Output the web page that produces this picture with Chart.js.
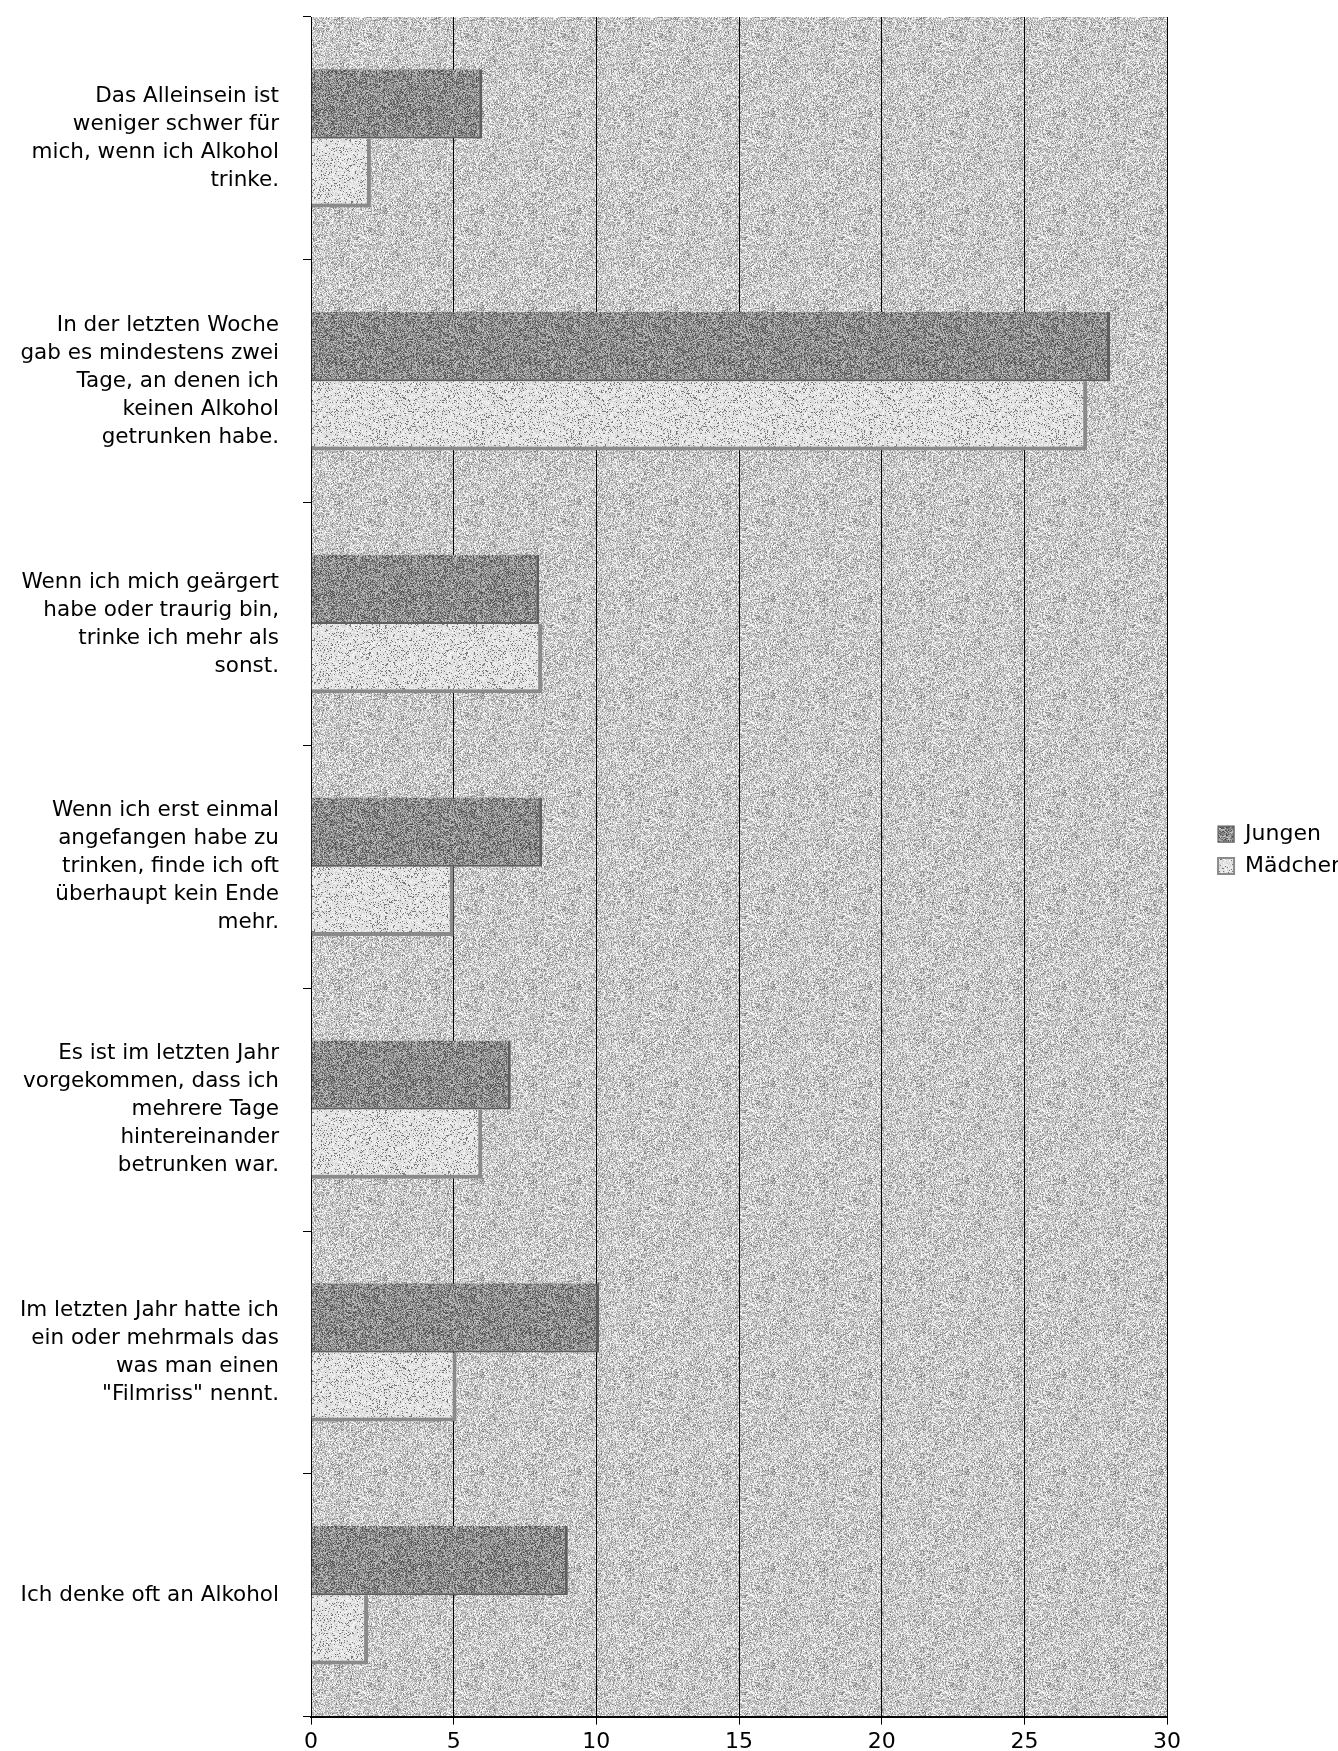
<!DOCTYPE html>
<html>
<head>
<meta charset="utf-8">
<script src="https://cdn.jsdelivr.net/npm/chart.js@4"></script>
<style>
  html, body { margin: 0; padding: 0; background: #ffffff; overflow: hidden; }
  #frame { width: 1338px; height: 1751px; overflow: hidden; position: relative; }
  #wrap { width: 1355px; height: 1759px; position: absolute; left: 0; top: 0; }
</style>
</head>
<body>
<div id="frame"><div id="wrap"><canvas id="c"></canvas></div></div>
<script>
const categories = [
  ["Das Alleinsein ist", "weniger schwer für", "mich, wenn ich Alkohol", "trinke."],
  ["In der letzten Woche", "gab es mindestens zwei", "Tage, an denen ich", "keinen Alkohol", "getrunken habe."],
  ["Wenn ich mich geärgert", "habe oder traurig bin,", "trinke ich mehr als", "sonst."],
  ["Wenn ich erst einmal", "angefangen habe zu", "trinken, finde ich oft", "überhaupt kein Ende", "mehr."],
  ["Es ist im letzten Jahr", "vorgekommen, dass ich", "mehrere Tage", "hintereinander", "betrunken war."],
  ["Im letzten Jahr hatte ich", "ein oder mehrmals das", "was man einen", "\"Filmriss\" nennt."],
  "Ich denke oft an Alkohol"
];
const seriesNames = ["Jungen", "Mädchen"];
const jungen = [6.0, 28.0, 8.0, 8.1, 7.0, 10.1, 9.0];
const maedchen = [2.1, 27.2, 8.1, 5.0, 6.0, 5.1, 2.0];
const xMin = 0, xMax = 30, xStep = 5;

// deterministic speckle texture (styling only, not data)
function hash(i) {
  i = Math.imul(i ^ 0x9e3779b9, 0x85ebca6b);
  i ^= i >>> 13; i = Math.imul(i, 0xc2b2ae35); i ^= i >>> 16;
  return (i >>> 0) / 4294967295;
}
function makePattern(base, spread, dotProb, dotVal, seed) {
  const s = 97, cv = document.createElement('canvas');
  cv.width = s; cv.height = s;
  const cx = cv.getContext('2d');
  const img = cx.createImageData(s, s);
  for (let p = 0; p < s * s; p++) {
    const h1 = hash(p * 3 + seed), h2 = hash(p * 7 + seed * 13 + 1);
    let v = base + (h1 - 0.5) * spread;
    if (h2 < dotProb) v = dotVal;
    v = Math.max(0, Math.min(255, v));
    img.data[p * 4] = v; img.data[p * 4 + 1] = v; img.data[p * 4 + 2] = v; img.data[p * 4 + 3] = 255;
  }
  cx.putImageData(img, 0, 0);
  return cx.createPattern(cv, 'repeat');
}
const bgPattern = makePattern(204, 105, 0.05, 125, 11);
const jungenPattern = makePattern(144, 115, 0.07, 75, 29);
const maedchenPattern = makePattern(228, 40, 0.12, 120, 47);

const plotBg = {
  id: 'plotBg',
  beforeDraw(chart) {
    const a = chart.chartArea, ctx = chart.ctx;
    ctx.save();
    ctx.fillStyle = bgPattern;
    ctx.fillRect(a.left, a.top, a.right - a.left, a.bottom - a.top);
    ctx.restore();
  }
};

new Chart(document.getElementById('c'), {
  type: 'bar',
  data: {
    labels: categories,
    datasets: [
      { label: seriesNames[0], data: jungen, backgroundColor: jungenPattern,
        borderColor: '#5e5e5e', borderWidth: {top: 0, left: 0, right: 3, bottom: 2}, borderSkipped: false },
      { label: seriesNames[1], data: maedchen, backgroundColor: maedchenPattern,
        borderColor: '#8a8a8a', borderWidth: {top: 0, left: 0, right: 4, bottom: 4}, borderSkipped: false }
    ]
  },
  options: {
    indexAxis: 'y',
    responsive: true,
    maintainAspectRatio: false,
    animation: false,
    devicePixelRatio: 1,
    datasets: { bar: { categoryPercentage: 0.57, barPercentage: 1.0 } },
    layout: { padding: { left: 20, right: 0, top: 17, bottom: 0 } },
    plugins: {
      title: { display: false },
      tooltip: { enabled: false },
      legend: {
        position: 'right',
        align: 'start',
        fullSize: false,
        title: { display: true, text: ' ', font: { size: 10 }, padding: { top: 784, bottom: 0 } },
        labels: {
          font: { family: 'DejaVu Sans', size: 22 },
          color: '#000',
          boxWidth: 16, boxHeight: 16,
          padding: 10
        }
      }
    },
    scales: {
      x: {
        min: xMin, max: xMax,
        ticks: { stepSize: xStep, color: '#000', font: { family: 'DejaVu Sans', size: 22 }, padding: 4 },
        grid: { color: '#000', lineWidth: 1, tickLength: 8, drawTicks: true },
        border: { display: true, color: '#000', width: 2 }
      },
      y: {
        ticks: { color: '#000', font: { family: 'DejaVu Sans', size: 21.5, lineHeight: 1.3 }, padding: 24 },
        grid: { display: true, drawOnChartArea: false, color: '#000', tickLength: 8 },
        border: { display: true, color: '#000', width: 1 },
        afterFit(scale) { scale.width = 291; scale.paddingTop = 0; scale.paddingBottom = 0; }
      },
      yGap: {
        type: 'category',
        position: 'right',
        display: true,
        grid: { display: false, drawOnChartArea: false },
        ticks: { display: false },
        border: { display: false },
        afterFit(scale) { scale.width = 41; scale.paddingTop = 0; scale.paddingBottom = 0; }
      }
    }
  },
  plugins: [plotBg]
});
</script>
</body>
</html>
